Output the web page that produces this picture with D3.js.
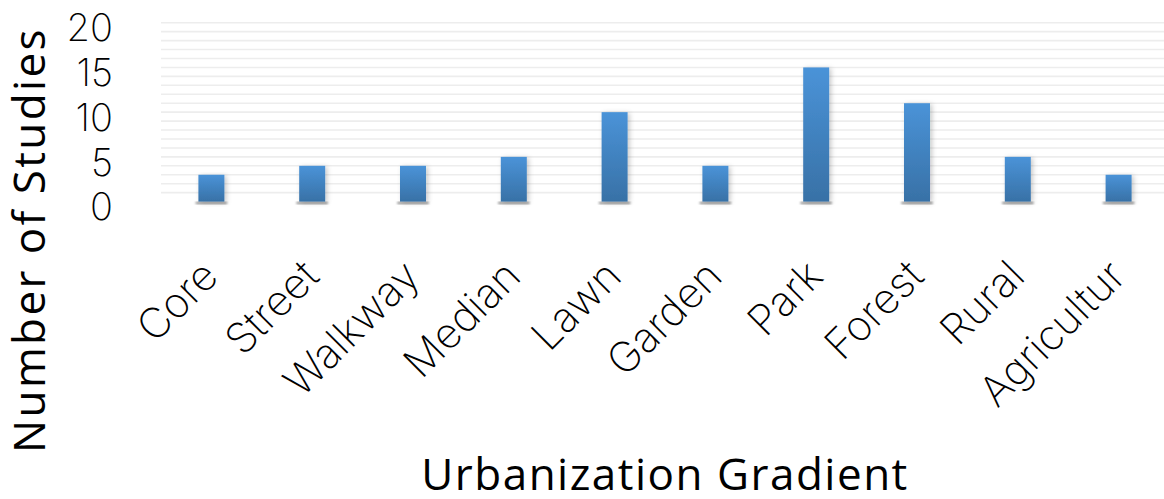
<!DOCTYPE html>
<html>
<head>
<meta charset="utf-8">
<script src="https://cdn.jsdelivr.net/npm/d3@7"></script>
<style>
  body { margin: 0; background: #fff; }
  svg { display: block; }
</style>
</head>
<body>
<div id="chart"></div>
<script>
const width = 1164;
const height = 499;

// chart data
const categories = ["Core", "Street", "Walkway", "Median", "Lawn", "Garden", "Park", "Forest", "Rural", "Agricultur"];
const studies = [3, 4, 4, 5, 10, 4, 15, 11, 5, 3];
const yTicks = [0, 5, 10, 15, 20];

const thinFont = "Inter, 'Open Sans', sans-serif";
const titleFont = "'Open Sans', sans-serif";

const svg = d3.select("#chart").append("svg")
  .attr("width", width)
  .attr("height", height);

const defs = svg.append("defs");

const grad = defs.append("linearGradient")
  .attr("id", "barGrad")
  .attr("x1", 0).attr("y1", 0).attr("x2", 0).attr("y2", 1);
grad.append("stop").attr("offset", "0%").attr("stop-color", "#4a93d8");
grad.append("stop").attr("offset", "100%").attr("stop-color", "#3871a6");

const shadow = defs.append("filter")
  .attr("id", "barShadow")
  .attr("x", "-30%").attr("y", "-10%")
  .attr("width", "170%").attr("height", "130%");
shadow.append("feDropShadow")
  .attr("dx", 2).attr("dy", 1)
  .attr("stdDeviation", 2.5)
  .attr("flood-color", "#000")
  .attr("flood-opacity", 0.22);

const blur = defs.append("filter").attr("id", "blur");
blur.append("feGaussianBlur").attr("stdDeviation", 1.2);

// scales
const x = d3.scaleBand()
  .domain(categories)
  .range([161, 1169])
  .paddingInner(0.742)
  .paddingOuter(0.371);

const y = d3.scaleLinear()
  .domain([0, 20])
  .range([201.6, 22.7]);

// faint gridlines, one per unit
svg.append("g")
  .selectAll("line")
  .data(d3.range(1, 21))
  .join("line")
  .attr("x1", 161)
  .attr("x2", width)
  .attr("y1", (d) => y(d))
  .attr("y2", (d) => y(d))
  .attr("stroke", "#ededed")
  .attr("stroke-width", 1.6);

// y axis, no line, just labels
const yAxis = svg.append("g")
  .attr("transform", "translate(113, 6)")
  .call(d3.axisLeft(y).tickValues(yTicks).tickSize(0).tickPadding(0));
yAxis.select(".domain").remove();
yAxis.selectAll("text")
  .attr("font-family", thinFont)
  .attr("font-weight", 200)
  .attr("font-size", 38)
  .attr("fill", "#000");

// bar base shadows
svg.append("g")
  .selectAll("rect")
  .data(studies)
  .join("rect")
  .attr("x", (d, i) => x(categories[i]) - 3)
  .attr("y", y(0) + 0.5)
  .attr("width", x.bandwidth() + 6)
  .attr("height", 2)
  .attr("rx", 1)
  .attr("fill", "#8a8a8a")
  .attr("filter", "url(#blur)");

// bars
svg.append("g")
  .selectAll("rect")
  .data(studies)
  .join("rect")
  .attr("x", (d, i) => x(categories[i]))
  .attr("y", (d) => y(d))
  .attr("width", x.bandwidth())
  .attr("height", (d) => y(0) - y(d))
  .attr("fill", "url(#barGrad)")
  .attr("filter", "url(#barShadow)");

// x axis labels, rotated
const xAxis = svg.append("g")
  .attr("transform", `translate(0, ${y(0)})`)
  .call(d3.axisBottom(x).tickSize(0).tickPadding(0));
xAxis.select(".domain").remove();
xAxis.selectAll("text")
  .attr("font-family", thinFont)
  .attr("font-weight", 200)
  .attr("font-size", 42)
  .attr("fill", "#000")
  .attr("text-anchor", "end")
  .attr("dy", 0)
  .attr("transform", "translate(9, 77) rotate(-45)");

// axis titles
svg.append("text")
  .attr("transform", "translate(45, 240) rotate(-90)")
  .attr("text-anchor", "middle")
  .attr("font-family", titleFont)
  .attr("font-size", 44)
  .attr("letter-spacing", 2.4)
  .attr("fill", "#000")
  .text("Number of Studies");

svg.append("text")
  .attr("x", 665)
  .attr("y", 490)
  .attr("text-anchor", "middle")
  .attr("font-family", titleFont)
  .attr("font-size", 44)
  .attr("letter-spacing", 1.5)
  .attr("fill", "#000")
  .text("Urbanization Gradient");
</script>
</body>
</html>
